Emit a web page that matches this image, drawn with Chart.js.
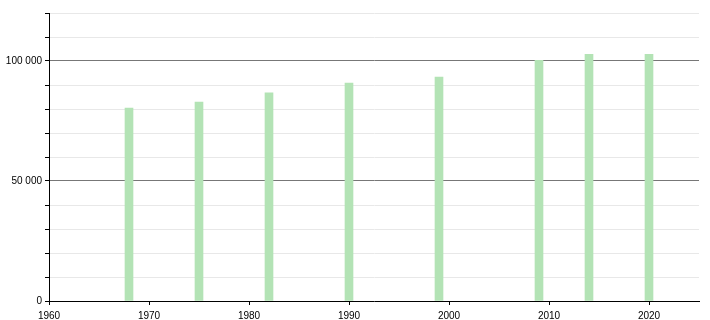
<!DOCTYPE html>
<html>
<head>
<meta charset="utf-8">
<script src="https://cdn.jsdelivr.net/npm/chart.js@4"></script>
<style>
html,body{margin:0;padding:0;background:#fff;}
#wrap{width:710px;height:320px;position:relative;}
</style>
</head>
<body>
<div id="wrap"><canvas id="c" width="710" height="320"></canvas></div>
<script>
const years = [1968, 1975, 1982, 1990, 1999, 2009, 2014, 2020];
const population = [80400, 82900, 86700, 90800, 93300, 100300, 102800, 102800];
const xTicks = [1960, 1970, 1980, 1990, 2000, 2010, 2020];
const yLabelled = [0, 50000, 100000];

function fmt(v){ return String(v).replace(/\B(?=(\d{3})+(?!\d))/g, ' '); }

new Chart(document.getElementById('c'), {
  type: 'bar',
  data: {
    datasets: [{
      data: years.map((y, i) => ({x: y, y: population[i]})),
      backgroundColor: '#b3e3b5',
      borderWidth: 0,
      barThickness: 8
    }]
  },
  options: {
    responsive: false,
    animation: false,
    layout: {padding: {top: 13, right: 11, left: 0, bottom: 0}},
    plugins: {legend: {display: false}, tooltip: {enabled: false}},
    scales: {
      x: {
        type: 'linear',
        min: 1960, max: 2025,
        offset: false,
        border: {color: '#000', width: 1},
        afterFit: (s) => { s.height = 19; },
        grid: {offset: false, drawOnChartArea: false, drawTicks: true, tickLength: 4, tickColor: '#000'},
        afterBuildTicks: (s) => { s.ticks = xTicks.map(v => ({value: v})); },
        ticks: {color: '#000', font: {family: 'Liberation Sans, Arial', size: 10}, padding: 5, maxRotation: 0,
          callback: (v) => String(v)}
      },
      y: {
        min: 0, max: 120000,
        border: {color: '#000', width: 1},
        afterFit: (s) => { s.width = 49; },
        grid: {
          color: (c) => (c.tick && c.tick.value % 50000 === 0 && c.tick.value !== 0) ? '#777777' : '#e8e8e8',
          tickColor: '#000',
          tickLength: 4
        },
        ticks: {stepSize: 10000, color: '#000', font: {family: 'Liberation Sans, Arial', size: 10}, padding: 3,
          callback: (v) => yLabelled.includes(v) ? fmt(v) : ''}
      }
    }
  }
});
</script>
</body>
</html>
